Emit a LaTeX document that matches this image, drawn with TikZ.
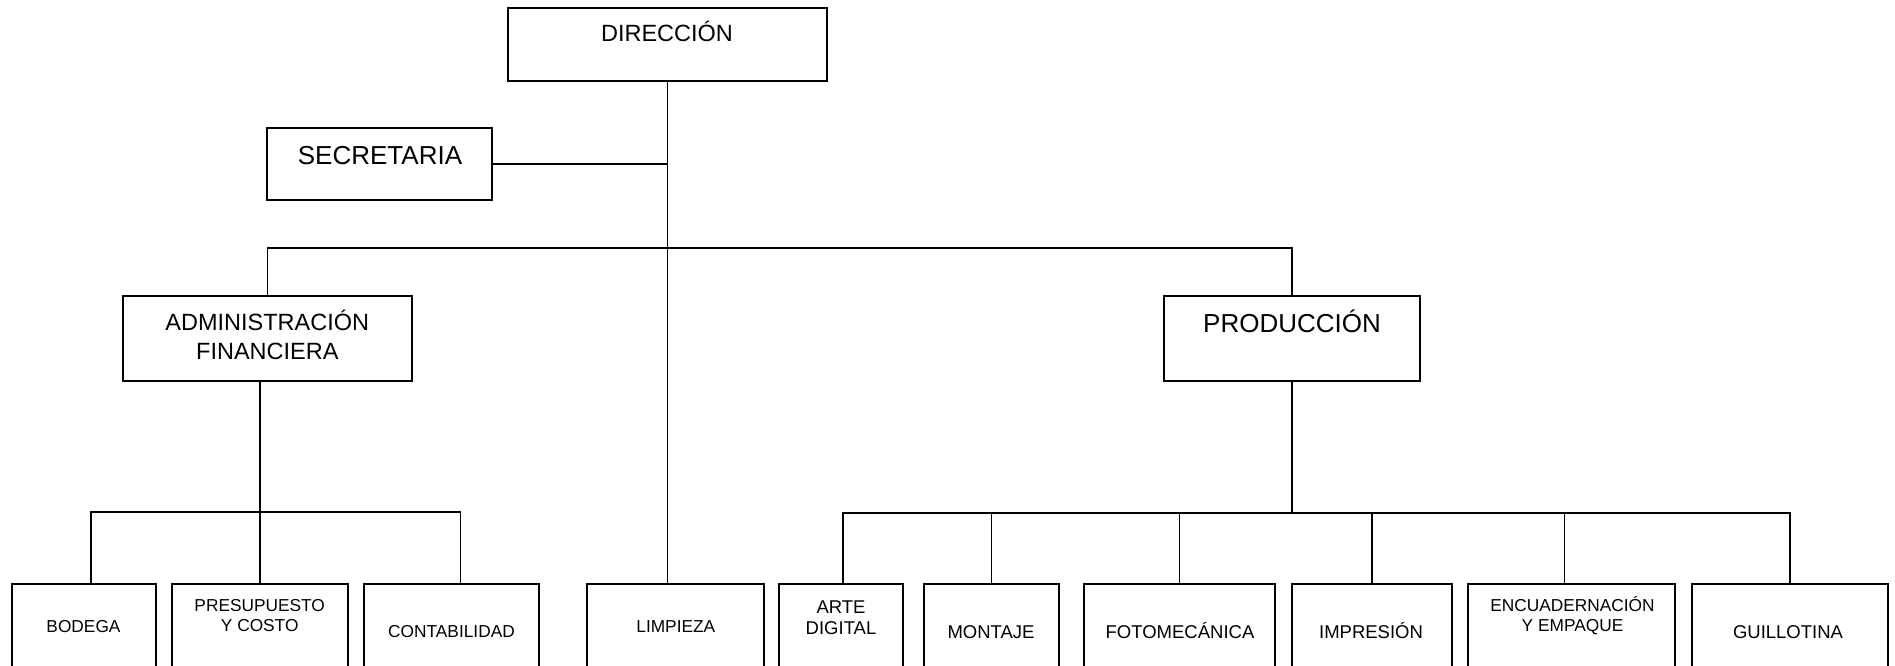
\documentclass[tikz,border=0pt]{standalone}
\usepackage{fontspec}
\setmainfont{Liberation Sans}
\usepackage{tikz}

\tikzset{
  caja/.style={draw, line width=1.6pt, inner sep=0pt},
  linea/.style={line width=1.6pt},
  letraA/.style={font=\fontsize{23.5}{28.5}\selectfont, inner sep=0pt, align=center},
  letraB/.style={font=\fontsize{26}{31}\selectfont, inner sep=0pt, align=center},
  letraC/.style={font=\fontsize{17.3}{20.5}\selectfont, inner sep=0pt, align=center},
  letraD/.style={font=\fontsize{18.5}{21.5}\selectfont, inner sep=0pt, align=center}
}

\begin{document}
\begin{tikzpicture}[x=1pt,y=-1pt]
%%\draw[help lines,step=100] (0,0) grid (1895,665);
\useasboundingbox (0,0) rectangle (1895,665);
\clip (0,0) rectangle (1895,665);
%% cajas
\node[caja,minimum width=319pt,minimum height=73pt] (dir) at (667.5,44.5) {};
\node[caja,minimum width=225pt,minimum height=72pt] (sec) at (379.5,164) {};
\node[caja,minimum width=289pt,minimum height=85pt] (adm) at (267.5,338.5) {};
\node[caja,minimum width=256pt,minimum height=85pt] (prod) at (1292,338.5) {};
\node[caja,minimum width=144pt,minimum height=106pt] (bod) at (84,637) {};
\node[caja,minimum width=176pt,minimum height=106pt] (pres) at (260,637) {};
\node[caja,minimum width=175pt,minimum height=106pt] (cont) at (451.5,637) {};
\node[caja,minimum width=177pt,minimum height=106pt] (limp) at (675.5,637) {};
\node[caja,minimum width=124pt,minimum height=106pt] (arte) at (841,637) {};
\node[caja,minimum width=135pt,minimum height=106pt] (mont) at (991.5,637) {};
\node[caja,minimum width=191pt,minimum height=106pt] (foto) at (1179.5,637) {};
\node[caja,minimum width=160pt,minimum height=106pt] (impr) at (1372,637) {};
\node[caja,minimum width=207pt,minimum height=106pt] (encu) at (1571.5,637) {};
\node[caja,minimum width=196pt,minimum height=106pt] (guil) at (1790,637) {};
%% textos
\node[letraA,anchor=base] (dir-t) at (667,41) {DIRECCIÓN};
\node[letraB,anchor=base] (sec-t) at (380,164.3) {SECRETARIA};
\node[letraA] (adm-t) at (267.3,335) {ADMINISTRACIÓN\\FINANCIERA};
\node[letraB,anchor=base] (prod-t) at (1292,332) {PRODUCCIÓN};
\node[letraC,anchor=base] (bod-t) at (83.5,632) {BODEGA};
\node[letraC] (pres-t) at (259.7,615.5) {PRESUPUESTO\\Y COSTO};
\node[letraC,anchor=base] (cont-t) at (451.5,637) {CONTABILIDAD};
\node[letraC,anchor=base] (limp-t) at (675.8,632) {LIMPIEZA};
\node[letraD] (arte-t) at (841,617.5) {ARTE\\DIGITAL};
\node[letraD,anchor=base] (mont-t) at (991,638) {MONTAJE};
\node[letraD,anchor=base] (foto-t) at (1180,638) {FOTOMECÁNICA};
\node[letraD,anchor=base] (impr-t) at (1371,638) {IMPRESIÓN};
\node[letraC] (encu-t) at (1572.5,615.5) {ENCUADERNACIÓN\\Y EMPAQUE};
\node[letraD,anchor=base] (guil-t) at (1788,638) {GUILLOTINA};
%% lineas
\coordinate (bus) at (667.5,248);
\coordinate (abus) at (260,512);
\coordinate (pbus) at (1292,513);
\draw[linea] (dir.south) -- (dir.south |- limp.north);
\draw[linea] (sec.east) -- (sec.east -| dir.south);
\draw[linea] (adm.north) |- (bus) -| (prod.north);
\draw[linea] (pres.north) -- (pres.north |- adm.south);
\draw[linea] ([xshift=7pt]bod.north) |- (abus) -| ([xshift=9pt]cont.north);
\draw[linea] (prod.south) -- (pbus);
\draw[linea] ([xshift=2pt]arte.north) |- (pbus) -| (guil.north);
\foreach \nom in {mont,foto,impr}
  \draw[linea] (\nom.north) -- (\nom.north |- pbus);
\draw[linea] ([xshift=-7pt]encu.north) -- ([xshift=-7pt]encu.north |- pbus);
\end{tikzpicture}
\end{document}
